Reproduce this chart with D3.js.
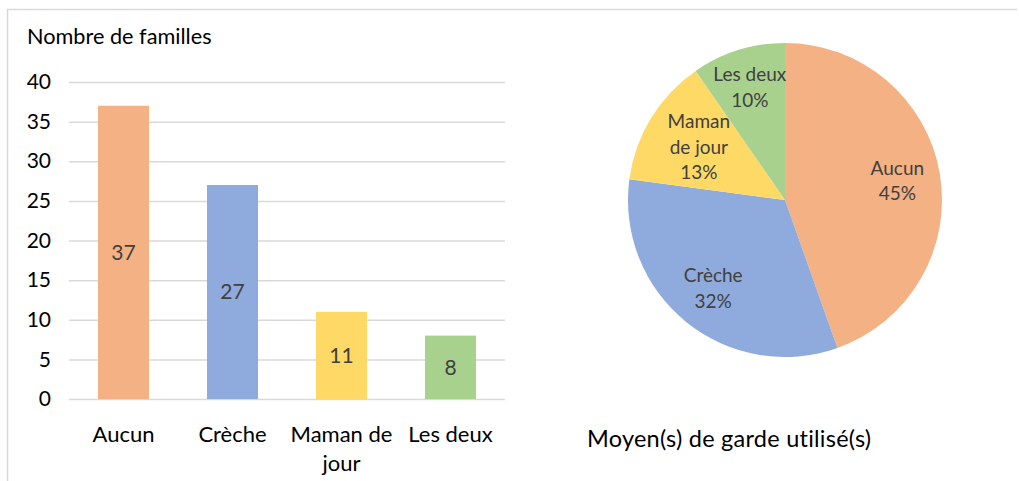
<!DOCTYPE html>
<html>
<head>
<meta charset="utf-8">
<script src="https://cdn.jsdelivr.net/npm/d3@7"></script>
<style>
  body { margin: 0; background: #fff; }
  svg text { font-family: Lato, "Open Sans", sans-serif; }
</style>
</head>
<body>
<div class="chart"></div>
<script>
(function () {
  'use strict';

  // donnees
  var categories = ["Aucun", "Crèche", "Maman de jour", "Les deux"];
  var familles = [37, 27, 11, 8];
  var pourcentages = ["45%", "32%", "13%", "10%"];
  var yTicks = [0, 5, 10, 15, 20, 25, 30, 35, 40];
  var couleurs = ["#F4B183", "#8FAADC", "#FFD966", "#A9D18E"];

  var w = 1019;
  var h = 481;
  var svg = d3.select(".chart").append("svg").attr("width", w).attr("height", h);
  svg.append("rect").attr("width", w).attr("height", h).attr("fill", "#fff");

  // cadre
  svg.append("path").attr("d", "M7.5,481V9.5H1017").attr("fill", "none")
    .attr("stroke", "#d9d9d9").attr("stroke-width", 1.5);

  // ---- histogramme ----
  var x = d3.scaleBand().domain(categories).range([69, 505]).paddingInner(0.532).paddingOuter(0.266);
  var y = d3.scaleLinear().domain([0, 40]).range([399, 82]);

  var yAxis = d3.axisLeft(y).tickValues(yTicks).tickSize(-(505 - 69)).tickPadding(18);
  var gy = svg.append("g").attr("transform", "translate(69,0)").call(yAxis);
  gy.select(".domain").remove();
  gy.selectAll(".tick line").attr("stroke", "#d9d9d9").attr("stroke-width", 1.5);
  gy.selectAll(".tick text").attr("fill", "#000").style("font-size", "21px");

  svg.append("g").selectAll("rect").data(familles).enter().append("rect")
    .attr("x", function (d, i) { return x(categories[i]); })
    .attr("y", function (d) { return y(d); })
    .attr("width", x.bandwidth())
    .attr("height", function (d) { return y(0) - y(d); })
    .attr("fill", function (d, i) { return couleurs[i]; });

  svg.append("g").selectAll("text").data(familles).enter().append("text")
    .attr("x", function (d, i) { return x(categories[i]) + x.bandwidth() / 2; })
    .attr("y", function (d) { return y(d / 2); })
    .attr("dy", "0.35em")
    .attr("text-anchor", "middle")
    .attr("fill", "#404040")
    .style("font-size", "21px")
    .text(function (d) { return d; });

  var xAxis = d3.axisBottom(x).tickSize(0).tickPadding(0);
  var gx = svg.append("g").attr("transform", "translate(0,399)").call(xAxis);
  gx.select(".domain").remove();
  gx.selectAll(".tick text").attr("fill", "#000").attr("y", 42.5).attr("dy", null)
    .style("font-size", "22px").each(function (d) {
    // retour a la ligne si le libelle depasse la largeur d'une categorie
    var t = d3.select(this);
    var words = d.split(" ");
    t.text(null);
    var line = [];
    var tspan = t.append("tspan").attr("x", 0);
    words.forEach(function (word) {
      line.push(word);
      tspan.text(line.join(" "));
      if (tspan.node().getComputedTextLength() > x.step() - 4 && line.length > 1) {
        line.pop();
        tspan.text(line.join(" "));
        line = [word];
        tspan = t.append("tspan").attr("x", 0).attr("dy", 29).text(word);
      }
    });
  });

  svg.append("text").attr("x", 27).attr("y", 43.5).attr("fill", "#000")
    .style("font-size", "21.7px").text("Nombre de familles");

  // ---- camembert ----
  var cx = 785, cy = 200, r = 157;
  var pie = d3.pie().sort(null).value(function (d) { return d; });
  var arcs = pie(familles);
  var arc = d3.arc().innerRadius(0).outerRadius(r);
  var gp = svg.append("g").attr("transform", "translate(" + cx + "," + cy + ")");

  gp.selectAll("path").data(arcs).enter().append("path")
    .attr("d", arc)
    .attr("fill", function (d, i) { return couleurs[i]; });

  var labelLines = [["Aucun"], ["Crèche"], ["Maman", "de jour"], ["Les deux"]];
  var labelR = [114, 114, 101, 118];
  gp.selectAll("text.lbl").data(arcs).enter().append("text")
    .attr("class", "lbl")
    .attr("text-anchor", "middle")
    .attr("fill", "#404040")
    .style("font-size", "19px")
    .each(function (d, i) {
      var a = (d.startAngle + d.endAngle) / 2;
      var px = Math.sin(a) * labelR[i];
      var py = -Math.cos(a) * labelR[i];
      var lines = labelLines[i].concat([pourcentages[i]]);
      var t = d3.select(this);
      var lh = 25.5;
      var top = py - (lines.length - 1) * lh / 2;
      lines.forEach(function (s, k) {
        t.append("tspan").attr("x", px).attr("y", top + k * lh).attr("dy", "0.35em").text(s);
      });
    });

  svg.append("text").attr("x", 587).attr("y", 447).attr("fill", "#000")
    .style("font-size", "23.5px").style("letter-spacing", "0.25px")
    .text("Moyen(s) de garde utilisé(s)");
})();
</script>
</body>
</html>
